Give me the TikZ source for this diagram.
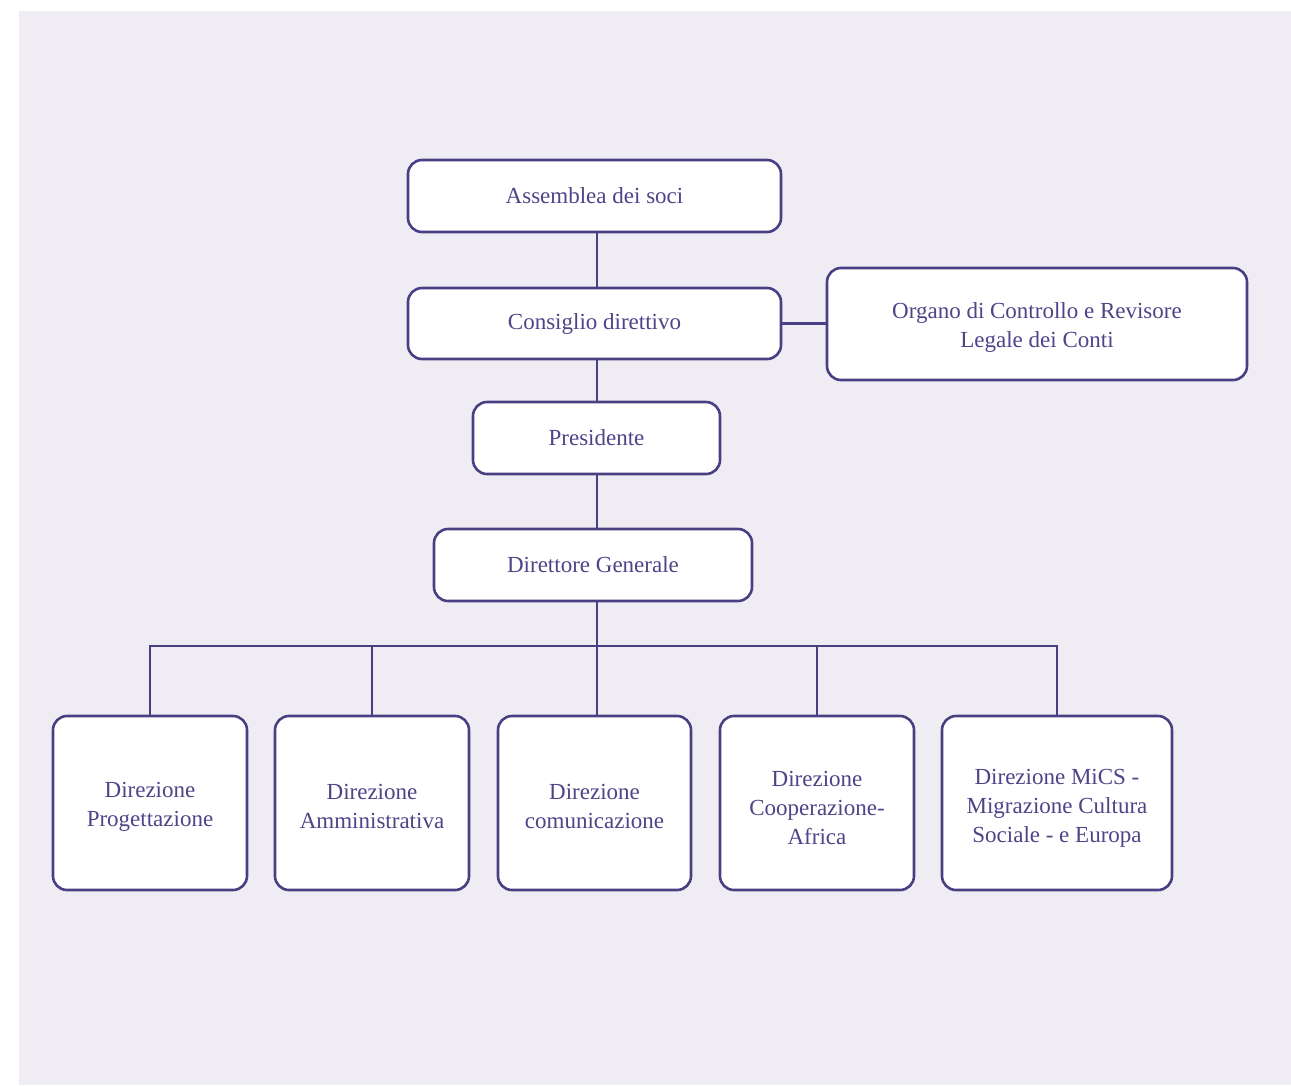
\documentclass[tikz,border=0pt]{standalone}
\usepackage{fontspec}
\setmainfont{Liberation Serif}
\definecolor{bgc}{HTML}{EFEDF3}
\definecolor{linec}{HTML}{4A3F82}
\definecolor{textc}{HTML}{4E4488}
\newcommand{\lowstrut}[1]{\rule{0pt}{#1}}
\begin{document}
\begin{tikzpicture}[x=1pt,y=-1pt,
  box/.style={draw=linec, line width=2.6pt, fill=white, rounded corners=14pt,
    text=textc, align=center, inner sep=0pt, font=\fontsize{23}{29}\selectfont},
  conn/.style={draw=linec, line width=2.6pt}]
\useasboundingbox (0,0) rectangle (1291,1085);
\fill[white] (0,0) rectangle (1291,1085);
\fill[bgc] (19,11) rectangle (1291,1085);

\node[box, minimum width=373pt, minimum height=72pt] (ass) at (594.5,196) {Assemblea dei soci};
\node[box, minimum width=373pt, minimum height=71pt] (cons) at (594.5,323.5) {Consiglio direttivo};
\node[box, minimum width=420pt, minimum height=112pt] (org) at (1037,324) {\lowstrut{22pt}Organo di Controllo e Revisore\\Legale dei Conti};
\node[box, minimum width=247pt, minimum height=72pt] (pres) at (596.5,438) {Presidente};
\node[box, minimum width=318pt, minimum height=72pt] (dg) at (593,565) {Direttore Generale};

\node[box, minimum width=194pt, minimum height=174pt] (d1) at (150,803) {\lowstrut{22pt}Direzione\\Progettazione};
\node[box, minimum width=194pt, minimum height=174pt] (d2) at (372,803) {\lowstrut{22pt}Direzione\\Amministrativa};
\node[box, minimum width=193pt, minimum height=174pt] (d3) at (594.5,803) {\lowstrut{22pt}Direzione\\comunicazione};
\node[box, minimum width=194pt, minimum height=174pt] (d4) at (817,803) {\lowstrut{25pt}Direzione\\Cooperazione-\\Africa};
\node[box, minimum width=230pt, minimum height=174pt] (d5) at (1057,803) {\lowstrut{25pt}Direzione MiCS -\\Migrazione Cultura\\Sociale - e Europa};

\coordinate (bus) at (597,646);

\draw[conn] (ass.south -| bus) -- (cons.north -| bus);
\draw[conn] (cons.south -| bus) -- (pres.north -| bus);
\draw[conn] (pres.south -| bus) -- (dg.north -| bus);
\draw[conn] (cons.east) -- (cons.east -| org.west);
\draw[conn] (dg.south -| bus) -- (bus);
\draw[conn] (d1.north) |- (bus) -| (d5.north);
\draw[conn] (d2.north) -- (d2.north |- bus);
\draw[conn] (bus) -- (bus |- d3.north);
\draw[conn] (d4.north) -- (d4.north |- bus);
\end{tikzpicture}
\end{document}
